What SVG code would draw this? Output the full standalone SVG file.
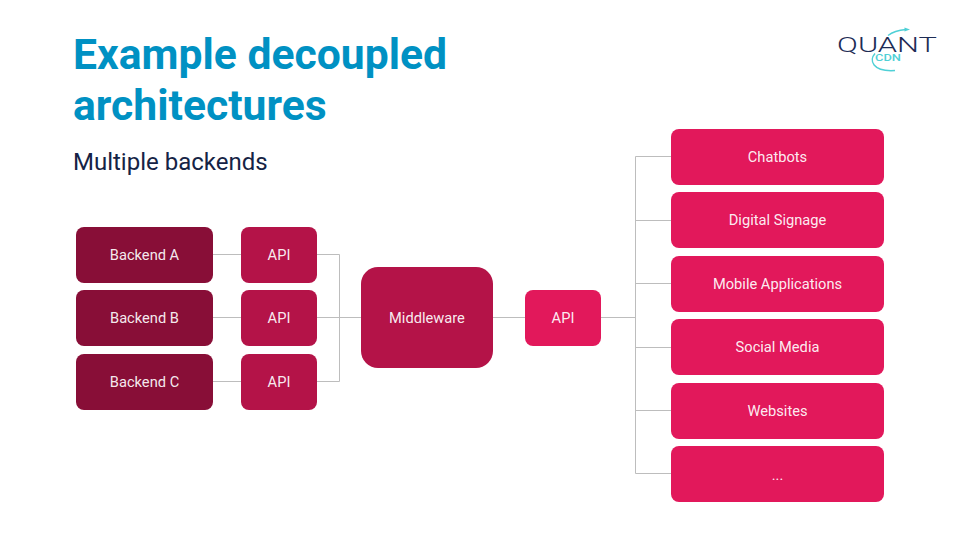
<svg xmlns="http://www.w3.org/2000/svg" width="960" height="540" viewBox="0 0 960 540">
<style>
text{font-family:Roboto,"Liberation Sans",sans-serif}
.l{font-size:14.67px;fill:#fff;fill-opacity:.93;text-anchor:middle}
.t{font-size:42.67px;font-weight:700;fill:#0091c3}
.s{font-size:24px;fill:#152345}
.c{fill:none;stroke:#bdbdbd;stroke-width:1}
.b{fill:#880e37}.a{fill:#b41348}.p{fill:#e2185b}
</style>
<rect width="960" height="540" fill="#fff"/>
<text class="t" x="73" y="69">Example decoupled</text>
<text class="t" x="73" y="120">architectures</text>
<text class="s" x="73" y="170">Multiple backends</text>
<g id="logo">
<text x="837" y="52" font-size="19.5" font-weight="300" textLength="100" lengthAdjust="spacingAndGlyphs" fill="#1d2c55">QUANT</text>
<text x="875" y="60.500" font-size="8.500" font-weight="500" textLength="26" lengthAdjust="spacingAndGlyphs" fill="#4fd0d6">CDN</text>
<path d="M888 35.500C893 31.500 900 30 906 29.500" fill="none" stroke="#4fd0d6" stroke-width="1.300"/>
<path d="M910 29.500L904.500 27.500V31.500Z" fill="#4fd0d6"/>
<path d="M875 53.500C869 60 872 72 895 70.500" fill="none" stroke="#4fd0d6" stroke-width="1.500"/>
</g>
<g id="connectors" class="c">
<path class="c" d="M213 254.500H241M213 317.500H241M213 381.500H241"/>
<path class="c" d="M317 254.500H339.500V381.500H317M317 317.500H361"/>
<path class="c" d="M493 317.500H525M601 317.500H635.500"/>
<path class="c" d="M671 156.500H635.500V473.500H671M635.500 220.500H671M635.500 283.500H671M635.500 347.500H671M635.500 410.500H671"/>
</g>
<g id="backend-a"><rect class="b" x="76" y="227" width="137" height="56" rx="8"/><text class="l" x="144.500" y="259.500">Backend A</text></g>
<g id="backend-b"><rect class="b" x="76" y="290" width="137" height="56" rx="8"/><text class="l" x="144.500" y="322.500">Backend B</text></g>
<g id="backend-c"><rect class="b" x="76" y="354" width="137" height="56" rx="8"/><text class="l" x="144.500" y="386.500">Backend C</text></g>
<g id="api-a"><rect class="a" x="241" y="227" width="76" height="56" rx="8"/><text class="l" x="279" y="259.500">API</text></g>
<g id="api-b"><rect class="a" x="241" y="290" width="76" height="56" rx="8"/><text class="l" x="279" y="322.500">API</text></g>
<g id="api-c"><rect class="a" x="241" y="354" width="76" height="56" rx="8"/><text class="l" x="279" y="386.500">API</text></g>
<g id="middleware"><rect class="a" x="361" y="267" width="132" height="101" rx="17"/><text class="l" x="427" y="322.500">Middleware</text></g>
<g id="api-out"><rect class="p" x="525" y="290" width="76" height="56" rx="8"/><text class="l" x="563" y="322.500">API</text></g>
<g id="chatbots"><rect class="p" x="671" y="129" width="213" height="56" rx="8"/><text class="l" x="777.500" y="161.500">Chatbots</text></g>
<g id="signage"><rect class="p" x="671" y="192" width="213" height="56" rx="8"/><text class="l" x="777.500" y="225">Digital Signage</text></g>
<g id="mobile"><rect class="p" x="671" y="256" width="213" height="56" rx="8"/><text class="l" x="777.500" y="288.500">Mobile Applications</text></g>
<g id="social"><rect class="p" x="671" y="319" width="213" height="56" rx="8"/><text class="l" x="777.500" y="352">Social Media</text></g>
<g id="websites"><rect class="p" x="671" y="383" width="213" height="56" rx="8"/><text class="l" x="777.500" y="415.500">Websites</text></g>
<g id="more"><rect class="p" x="671" y="446" width="213" height="56" rx="8"/><text class="l" x="777.500" y="480">...</text></g>
</svg>
